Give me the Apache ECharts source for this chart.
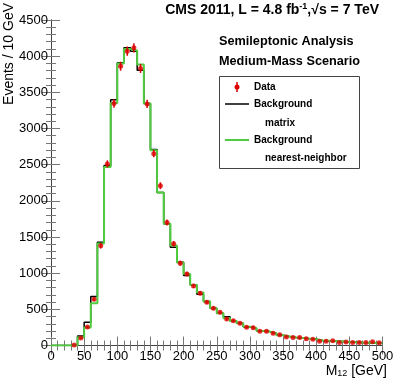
<!DOCTYPE html>
<html>
<head>
<meta charset="utf-8">
<script src="https://cdn.jsdelivr.net/npm/echarts@6/dist/echarts.min.js"></script>
<style>
  html, body { margin: 0; padding: 0; background: #fff; }
  #chart { width: 399px; height: 384px; }
</style>
</head>
<body>
<div id="chart"></div>
<script>
// bin centres in GeV (10 GeV wide bins)
const binCenters = [5, 15, 25, 35, 45, 55, 65, 75, 85, 95, 105, 115, 125, 135, 145, 155, 165, 175, 185, 195,
    205, 215, 225, 235, 245, 255, 265, 275, 285, 295, 305, 315, 325, 335, 345, 355, 365, 375, 385, 395,
    405, 415, 425, 435, 445, 455, 465, 475, 485, 495];
const binWidth = 10;

const dataEvents = [null, null, null, 7, 105, 255, 640, 1378, 2510, 3345, 3861, 4069, 4116, 3830, 3340, 2652, 2209, 1701, 1406, 1138,
    990, 824, 723, 598, 515, 460, 367, 343, 307, 252, 247, 196, 196, 169, 150, 118, 110, 112, 94, 86,
    58, 60, 65, 42, 50, 40, 40, 40, 52, 38];
const dataErrors = [0, 0, 0, 3, 10, 16, 25, 37, 50, 58, 62, 64, 64, 62, 58, 51, 47, 41, 37, 34,
    31, 29, 27, 24, 23, 21, 19, 19, 18, 16, 16, 14, 14, 13, 12, 11, 10, 11, 10, 9,
    8, 8, 8, 6, 7, 6, 6, 6, 7, 6];
const bgMatrix = [0, 0, 0, 0, 130, 320, 676, 1429, 2490, 3396, 3908, 4116, 4069, 3806, 3345, 2708, 2116, 1683, 1360, 1150,
    967, 838, 709, 607, 515, 446, 399, 339, 307, 260, 238, 200, 192, 169, 141, 125, 110, 105, 95, 85,
    70, 65, 60, 55, 50, 45, 40, 38, 35, 32];
const bgNearest = [0, 0, 0, 0, 113, 250, 584, 1410, 2468, 3354, 3900, 4100, 4079, 3885, 3345, 2698, 2116, 1683, 1382, 1147,
    990, 838, 731, 607, 515, 446, 376, 339, 307, 260, 238, 200, 192, 169, 141, 125, 110, 105, 95, 85,
    70, 65, 60, 55, 50, 45, 40, 38, 35, 32];

const FONT = 'Liberation Sans';
const RED = '#dd0000';
const GREEN = '#4fcc3f';

// step outline from bin contents: point at each low edge, plus the last high edge
function stepData(values) {
    const pts = binCenters.map((c, i) => [c - binWidth / 2, values[i]]);
    pts.push([binCenters[binCenters.length - 1] + binWidth / 2, values[values.length - 1]]);
    return pts;
}

const chart = echarts.init(document.getElementById('chart'), null, {renderer: 'canvas'});

const tickStyle = {
    axisLine: {show: true, lineStyle: {color: '#444', width: 1}},
    axisTick: {show: true, inside: true, length: 9, lineStyle: {color: '#777', width: 1}},
    minorTick: {show: true, splitNumber: 5, length: 5, lineStyle: {color: '#777', width: 1}},
    splitLine: {show: false}
};

const option = {
    animation: false,
    grid: {left: 51, top: 20, right: 16.5, bottom: 38.5},
    xAxis: [
        Object.assign({
            type: 'value', min: 0, max: 500, interval: 50, position: 'bottom',
            axisLabel: {color: '#000', fontFamily: FONT, fontSize: 13, margin: 4, formatter: v => String(v)}
        }, tickStyle),
        Object.assign({
            type: 'value', min: 0, max: 500, interval: 50, position: 'top',
            axisLabel: {show: false}
        }, tickStyle)
    ],
    yAxis: [
        Object.assign({
            type: 'value', min: 0, max: 4500, interval: 500, position: 'left',
            axisLabel: {color: '#000', fontFamily: FONT, fontSize: 13, margin: 3, formatter: v => String(v)}
        }, tickStyle),
        Object.assign({
            type: 'value', min: 0, max: 4500, interval: 500, position: 'right',
            axisLabel: {show: false}
        }, tickStyle)
    ],
    series: [
        {
            name: 'Background matrix', type: 'line', step: 'end',
            data: stepData(bgMatrix), showSymbol: false,
            lineStyle: {color: '#000', width: 1.5}, z: 2
        },
        {
            name: 'Background nearest-neighbor', type: 'line', step: 'end',
            data: stepData(bgNearest), showSymbol: false,
            lineStyle: {color: GREEN, width: 2}, z: 3
        },
        {
            name: 'Data errors', type: 'custom',
            data: binCenters.map((c, i) => dataEvents[i] == null ? [c, null, 0] : [c, dataEvents[i], dataErrors[i]]),
            renderItem: function (params, api) {
                const v = api.value(1);
                if (v == null || isNaN(v)) return null;
                const e = api.value(2);
                const top = api.coord([api.value(0), v + e]);
                const bot = api.coord([api.value(0), v - e]);
                return {
                    type: 'line',
                    shape: {x1: top[0], y1: top[1], x2: bot[0], y2: bot[1]},
                    style: {stroke: RED, lineWidth: 1.5}
                };
            },
            z: 4
        },
        {
            name: 'Data', type: 'scatter',
            data: binCenters.map((c, i) => [c, dataEvents[i]]).filter(p => p[1] != null),
            symbol: 'circle', symbolSize: 5,
            itemStyle: {color: RED}, z: 5
        }
    ],
    graphic: [
        {
            type: 'text', x: 379, y: 10,
            style: {
                text: 'CMS 2011, L = 4.8 fb{sup|-1},√s = 7 TeV',
                font: 'bold 14px ' + FONT, fill: '#000', align: 'right', verticalAlign: 'middle',
                rich: {sup: {font: 'bold 9px ' + FONT, fill: '#000', padding: [0, 0, 7, 0]}}
            }
        },
        {
            type: 'text', x: 9, y: 3, rotation: Math.PI / 2,
            style: {
                text: 'Events / 10 GeV', font: '14px ' + FONT, fill: '#000',
                align: 'right', verticalAlign: 'middle'
            }
        },
        {
            type: 'text', x: 387, y: 371,
            style: {
                text: 'M{sub|12} [GeV]', font: '14px ' + FONT, fill: '#000',
                align: 'right', verticalAlign: 'middle',
                rich: {sub: {font: '9px ' + FONT, fill: '#000', padding: [6, 0, 0, 0]}}
            }
        },
        {
            type: 'text', x: 219, y: 41,
            style: {text: 'Semileptonic Analysis', font: 'bold 12.7px ' + FONT, fill: '#000', verticalAlign: 'middle'}
        },
        {
            type: 'text', x: 219, y: 61,
            style: {text: 'Medium-Mass Scenario', font: 'bold 12.7px ' + FONT, fill: '#000', verticalAlign: 'middle'}
        },
        {
            type: 'rect', shape: {x: 219.5, y: 76.5, width: 140, height: 92},
            style: {fill: '#fff', stroke: '#444', lineWidth: 1}, z: 10
        },
        {
            type: 'line', shape: {x1: 237, y1: 82, x2: 237, y2: 92},
            style: {stroke: RED, lineWidth: 1.5}, z: 11
        },
        {
            type: 'circle', shape: {cx: 237, cy: 87, r: 2.5},
            style: {fill: RED}, z: 11
        },
        {
            type: 'text', x: 254, y: 87, z: 11,
            style: {text: 'Data', font: 'bold 10px ' + FONT, fill: '#000', verticalAlign: 'middle'}
        },
        {
            type: 'line', shape: {x1: 225, y1: 104, x2: 249, y2: 104},
            style: {stroke: '#000', lineWidth: 1.5}, z: 11
        },
        {
            type: 'text', x: 254, y: 104, z: 11,
            style: {text: 'Background', font: 'bold 10px ' + FONT, fill: '#000', verticalAlign: 'middle'}
        },
        {
            type: 'text', x: 265, y: 123, z: 11,
            style: {text: 'matrix', font: 'bold 10px ' + FONT, fill: '#000', verticalAlign: 'middle'}
        },
        {
            type: 'line', shape: {x1: 225, y1: 140, x2: 249, y2: 140},
            style: {stroke: GREEN, lineWidth: 2}, z: 11
        },
        {
            type: 'text', x: 254, y: 140, z: 11,
            style: {text: 'Background', font: 'bold 10px ' + FONT, fill: '#000', verticalAlign: 'middle'}
        },
        {
            type: 'text', x: 265, y: 158, z: 11,
            style: {text: 'nearest-neighbor', font: 'bold 10px ' + FONT, fill: '#000', verticalAlign: 'middle'}
        }
    ]
};

chart.setOption(option);
</script>
</body>
</html>
